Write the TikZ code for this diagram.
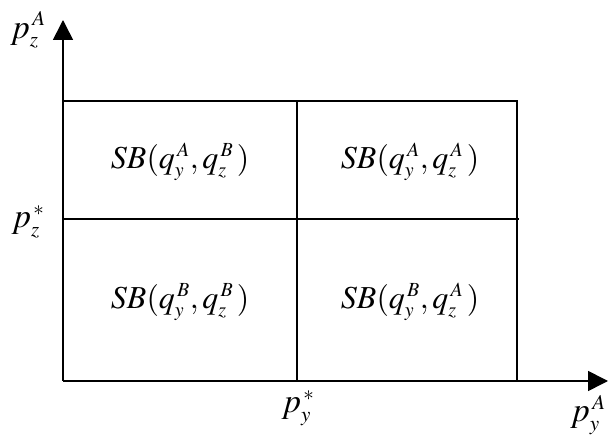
\documentclass[tikz,border=0pt]{standalone}
\usepackage{mathptmx}
\usepackage{tikz}
\usetikzlibrary{arrows.meta}
\DeclareMathSizes{32}{32}{20}{16}
\DeclareMathSizes{34}{34}{21}{16}

\tikzset{
  axisline/.style={line width=1.6pt, -{Triangle[length=20pt,width=20pt]}},
  gridline/.style={line width=1.3pt},
  cell/.style={font=\fontsize{32}{34}\selectfont, inner sep=1pt},
  axlabel/.style={font=\fontsize{34}{36}\selectfont, inner sep=1pt},
}

\begin{document}
\begin{tikzpicture}[x=1pt, y=1pt]
        \useasboundingbox (0,0) rectangle (608,436);
        % axes
        \coordinate (origin) at (63,55);
        \coordinate (ytip) at (63,416);
        \coordinate (xtip) at (608,55);
        \draw[axisline] (origin) -- (ytip);
        \draw[axisline] (origin) -- (xtip);
        % price regions
        \coordinate (tl) at (63,335);
        \coordinate (tr) at (517,335);
        \coordinate (br) at (517,55);
        \coordinate (ml) at (63,217);
        \coordinate (mr) at (519,217);
        \coordinate (mt) at (297,335);
        \coordinate (mb) at (297,55);
        \draw[gridline] (tl) -- (tr) -- (br);
        \draw[gridline] (ml) -- (mr);
        \draw[gridline] (mt) -- (mb);
        % region labels
        \node[cell] (sbAB) at (180,274) {$SB(q_y^{\,A},q_z^{\,B}\,)$};
        \node[cell] (sbAA) at (410,274) {$SB(q_y^{\,A},q_z^{\,A}\,)$};
        \node[cell] (sbBB) at (180,134) {$SB(q_y^{\,B},q_z^{\,B}\,)$};
        \node[cell] (sbBA) at (410,134) {$SB(q_y^{\,B},q_z^{\,A}\,)$};
        % axis labels
        \node[axlabel] (pzA) at (28,406) {$p_z^{\,A}$};
        \node[axlabel] (pzs) at (28,214) {$p_z^{\,*}$};
        \node[axlabel] (pys) at (298,28) {$p_y^{\,*}$};
        \node[axlabel] (pyA) at (588,21) {$p_y^{\,A}$};
      \end{tikzpicture}
\end{document}
